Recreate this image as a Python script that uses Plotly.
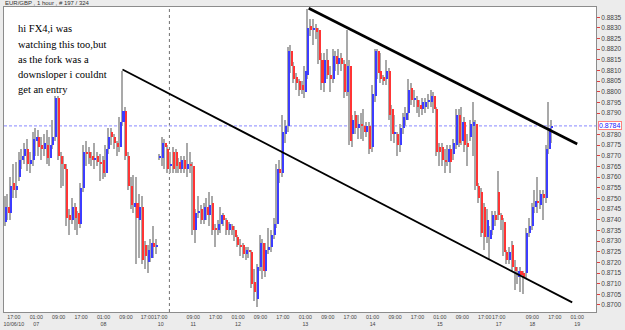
import plotly.graph_objects as go

# ---- data (hourly EUR/GBP bars) ----
bar_index = list(range(196))

opens = [0.8739,0.8746,0.8743,0.8757,0.8754,0.8760,0.8768,0.8770,0.8773,0.8766,
         0.8768,0.8777,0.8779,0.8775,0.8773,0.8775,0.8769,0.8775,0.8779,0.8797,
         0.8770,0.8766,0.8764,0.8742,0.8740,0.8746,0.8743,0.8738,0.8755,0.8772,
         0.8772,0.8770,0.8768,0.8770,0.8767,0.8768,0.8762,0.8773,0.8781,0.8779,
         0.8776,0.8774,0.8786,0.8791,0.8770,0.8756,0.8746,0.8748,0.8740,0.8746,
         0.8728,0.8720,0.8722,0.8729,0.8727,0.8769,0.8769,0.8776,0.8773,0.8765,
         0.8772,0.8772,0.8767,0.8764,0.8768,0.8764,0.8766,0.8765,0.8735,0.8743,
         0.8745,0.8740,0.8746,0.8742,0.8748,0.8736,0.8735,0.8738,0.8742,0.8740,
         0.8735,0.8737,0.8735,0.8732,0.8728,0.8728,0.8724,0.8726,0.8725,0.8711,
         0.8703,0.8718,0.8729,0.8716,0.8726,0.8727,0.8733,0.8738,0.8764,0.8762,
         0.8780,0.8784,0.8819,0.8812,0.8807,0.8805,0.8803,0.8800,0.8808,0.8831,
         0.8829,0.8830,0.8829,0.8815,0.8804,0.8815,0.8808,0.8806,0.8817,0.8813,
         0.8816,0.8813,0.8800,0.8812,0.8780,0.8789,0.8783,0.8785,0.8784,0.8781,
         0.8784,0.8774,0.8798,0.8819,0.8810,0.8807,0.8806,0.8810,0.8792,0.8780,
         0.8780,0.8775,0.8783,0.8787,0.8790,0.8802,0.8796,0.8796,0.8794,0.8792,
         0.8793,0.8795,0.8795,0.8798,0.8792,0.8774,0.8774,0.8768,0.8767,0.8773,
         0.8771,0.8775,0.8789,0.8777,0.8786,0.8776,0.8779,0.8784,0.8785,0.8756,
         0.8753,0.8746,0.8732,0.8731,0.8735,0.8742,0.8753,0.8742,0.8739,0.8725,
         0.8721,0.8728,0.8718,0.8713,0.8716,0.8715,0.8715,0.8734,0.8737,0.8746,
         0.8749,0.8747,0.8752,0.8750,0.8773,0.8783]
highs = [0.8751,0.8752,0.8760,0.8766,0.8767,0.8772,0.8773,0.8776,0.8778,0.8772,
         0.8781,0.8783,0.8782,0.8779,0.8780,0.8782,0.8779,0.8787,0.8798,0.8798,
         0.8772,0.8770,0.8766,0.8745,0.8750,0.8748,0.8744,0.8757,0.8775,0.8777,
         0.8774,0.8772,0.8776,0.8772,0.8771,0.8770,0.8775,0.8783,0.8783,0.8780,
         0.8777,0.8788,0.8810,0.8793,0.8772,0.8760,0.8761,0.8760,0.8752,0.8751,
         0.8730,0.8728,0.8731,0.8737,0.8731,0.8771,0.8779,0.8778,0.8775,0.8772,
         0.8774,0.8773,0.8769,0.8770,0.8770,0.8776,0.8772,0.8767,0.8745,0.8751,
         0.8747,0.8748,0.8750,0.8753,0.8751,0.8738,0.8740,0.8746,0.8743,0.8741,
         0.8739,0.8738,0.8737,0.8733,0.8731,0.8729,0.8727,0.8727,0.8726,0.8717,
         0.8719,0.8733,0.8731,0.8729,0.8736,0.8735,0.8741,0.8766,0.8768,0.8789,
         0.8787,0.8821,0.8822,0.8814,0.8809,0.8806,0.8805,0.8812,0.8839,0.8834,
         0.8834,0.8832,0.8830,0.8818,0.8818,0.8820,0.8812,0.8820,0.8819,0.8820,
         0.8818,0.8815,0.8829,0.8815,0.8789,0.8791,0.8789,0.8790,0.8792,0.8786,
         0.8786,0.8803,0.8820,0.8820,0.8818,0.8808,0.8815,0.8811,0.8794,0.8789,
         0.8781,0.8785,0.8790,0.8793,0.8806,0.8804,0.8801,0.8798,0.8796,0.8797,
         0.8797,0.8799,0.8801,0.8800,0.8793,0.8776,0.8776,0.8773,0.8775,0.8775,
         0.8778,0.8792,0.8792,0.8793,0.8788,0.8780,0.8787,0.8795,0.8787,0.8757,
         0.8755,0.8748,0.8745,0.8737,0.8744,0.8744,0.8763,0.8743,0.8741,0.8726,
         0.8727,0.8730,0.8721,0.8718,0.8718,0.8716,0.8736,0.8741,0.8748,0.8754,
         0.8760,0.8754,0.8754,0.8775,0.8795,0.8787]
lows = [0.8737,0.8740,0.8740,0.8750,0.8750,0.8758,0.8764,0.8766,0.8763,0.8762,
        0.8765,0.8770,0.8770,0.8768,0.8770,0.8766,0.8765,0.8773,0.8777,0.8768,
        0.8755,0.8756,0.8737,0.8733,0.8738,0.8735,0.8733,0.8736,0.8753,0.8765,
        0.8766,0.8765,0.8764,0.8765,0.8758,0.8759,0.8760,0.8771,0.8775,0.8773,
        0.8770,0.8772,0.8784,0.8768,0.8754,0.8745,0.8743,0.8719,0.8722,0.8719,
        0.8717,0.8715,0.8720,0.8722,0.8724,0.8768,0.8765,0.8764,0.8762,0.8762,
        0.8762,0.8762,0.8762,0.8762,0.8762,0.8760,0.8762,0.8733,0.8729,0.8741,
        0.8738,0.8738,0.8740,0.8737,0.8733,0.8727,0.8733,0.8734,0.8737,0.8733,
        0.8733,0.8733,0.8730,0.8727,0.8723,0.8722,0.8721,0.8722,0.8708,0.8702,
        0.8699,0.8716,0.8712,0.8713,0.8724,0.8725,0.8731,0.8736,0.8757,0.8760,
        0.8776,0.8781,0.8809,0.8804,0.8801,0.8798,0.8799,0.8797,0.8806,0.8826,
        0.8822,0.8825,0.8813,0.8801,0.8800,0.8806,0.8800,0.8804,0.8810,0.8808,
        0.8810,0.8797,0.8798,0.8775,0.8774,0.8780,0.8778,0.8778,0.8777,0.8779,
        0.8771,0.8772,0.8795,0.8806,0.8804,0.8803,0.8803,0.8787,0.8777,0.8776,
        0.8770,0.8772,0.8780,0.8784,0.8787,0.8794,0.8793,0.8790,0.8788,0.8789,
        0.8790,0.8792,0.8793,0.8790,0.8770,0.8765,0.8765,0.8762,0.8765,0.8762,
        0.8768,0.8773,0.8774,0.8775,0.8772,0.8765,0.8777,0.8770,0.8754,0.8748,
        0.8732,0.8726,0.8729,0.8721,0.8733,0.8737,0.8740,0.8735,0.8723,0.8719,
        0.8719,0.8716,0.8707,0.8710,0.8706,0.8705,0.8712,0.8732,0.8735,0.8743,
        0.8743,0.8745,0.8740,0.8748,0.8771,0.8776]
closes = [0.8746,0.8743,0.8756,0.8754,0.8756,0.8768,0.8770,0.8773,0.8766,0.8768,
          0.8778,0.8779,0.8774,0.8773,0.8776,0.8769,0.8775,0.8779,0.8797,0.8770,
          0.8766,0.8764,0.8741,0.8740,0.8746,0.8741,0.8738,0.8755,0.8772,0.8771,
          0.8769,0.8768,0.8769,0.8767,0.8766,0.8762,0.8773,0.8779,0.8779,0.8776,
          0.8774,0.8786,0.8791,0.8770,0.8756,0.8747,0.8748,0.8741,0.8746,0.8721,
          0.8723,0.8726,0.8729,0.8727,0.8728,0.8770,0.8776,0.8774,0.8764,0.8766,
          0.8764,0.8765,0.8764,0.8768,0.8764,0.8766,0.8765,0.8735,0.8743,0.8744,
          0.8740,0.8746,0.8742,0.8747,0.8735,0.8735,0.8738,0.8742,0.8740,0.8735,
          0.8738,0.8735,0.8732,0.8728,0.8727,0.8724,0.8726,0.8725,0.8710,0.8706,
          0.8718,0.8729,0.8716,0.8726,0.8727,0.8733,0.8738,0.8764,0.8762,0.8781,
          0.8784,0.8819,0.8812,0.8806,0.8804,0.8801,0.8801,0.8810,0.8830,0.8829,
          0.8830,0.8828,0.8815,0.8804,0.8815,0.8808,0.8806,0.8817,0.8813,0.8816,
          0.8813,0.8800,0.8812,0.8777,0.8787,0.8783,0.8785,0.8784,0.8781,0.8784,
          0.8773,0.8799,0.8819,0.8809,0.8806,0.8805,0.8810,0.8789,0.8780,0.8781,
          0.8775,0.8783,0.8788,0.8790,0.8801,0.8796,0.8797,0.8793,0.8792,0.8795,
          0.8795,0.8796,0.8798,0.8792,0.8772,0.8772,0.8768,0.8767,0.8773,0.8767,
          0.8776,0.8789,0.8776,0.8786,0.8775,0.8774,0.8785,0.8786,0.8756,0.8750,
          0.8734,0.8732,0.8740,0.8735,0.8742,0.8740,0.8742,0.8740,0.8725,0.8721,
          0.8725,0.8718,0.8716,0.8716,0.8714,0.8713,0.8734,0.8737,0.8746,0.8749,
          0.8748,0.8752,0.8750,0.8773,0.8783,0.8784]

tick_index = [3, 11, 19, 27, 35, 43, 50.6, 55.4, 67, 75, 83, 91, 99, 107, 115, 123,
              131, 139, 147, 155, 163, 171, 176, 188, 196, 204]
tick_labels = ["17:00<br>10/06/10", "01:00<br>07", "09:00", "17:00", "01:00<br>08",
               "09:00", "17:00", "17:00<br>10", "09:00<br>11", "17:00", "01:00<br>12",
               "09:00", "17:00", "01:00<br>13", "09:00", "17:00", "01:00<br>14",
               "09:00", "17:00", "01:00<br>15", "09:00", "17:00", "17:00<br>17",
               "09:00<br>18", "17:00", "01:00<br>19"]

# price scale labels (0.8785 is hidden under the last-price box in the reference)
price_ticks = [0.8700, 0.8705, 0.8710, 0.8715, 0.8720, 0.8725, 0.8730, 0.8735,
               0.8740, 0.8745, 0.8750, 0.8755, 0.8760, 0.8765, 0.8770, 0.8775,
               0.8780, 0.8790, 0.8795, 0.8800, 0.8805, 0.8810, 0.8815,
               0.8820, 0.8825, 0.8830, 0.8835]

last_price = 0.8784
separator_index = 58.5
fork_lower_x = [41.76, 202.2]
fork_lower_y = [0.88105, 0.87012]
fork_upper_x = [108.2, 204.0]
fork_upper_y = [0.88392, 0.87755]

title_text = "EUR/GBP , 1 hour , # 197 / 324"
note_lines = ["hi FX4,i was", "watching this too,but", "as the fork was a",
              "downsloper i couldnt", "get an entry"]

# ---- figure ----
UP = "#3c3cff"
DOWN = "#ff3535"
WICK = "#a9a9a9"
NARROW = "Liberation Sans Narrow, Arial Narrow, Liberation Sans, sans-serif"

wick_x = [i - 0.3 for i in bar_index]
wick_len = [h - l for h, l in zip(highs, lows)]
body_x = [i + 0.12 for i in bar_index]
body_base = [min(o, c) for o, c in zip(opens, closes)]
body_len = [max(abs(c - o), 0.00004) for o, c in zip(opens, closes)]
body_col = [UP if c >= o else DOWN for o, c in zip(opens, closes)]

fig = go.Figure()
fig.add_trace(go.Bar(x=wick_x, y=wick_len, base=lows, width=0.38,
                     marker=dict(color=WICK, line=dict(width=0)), hoverinfo="skip"))
fig.add_trace(go.Bar(x=body_x, y=body_len, base=body_base, width=0.72,
                     marker=dict(color=body_col, line=dict(width=0)), hoverinfo="skip"))
fig.add_trace(go.Scatter(x=fork_lower_x, y=fork_lower_y, mode="lines",
                         line=dict(color="black", width=1.8), hoverinfo="skip"))
fig.add_trace(go.Scatter(x=fork_upper_x, y=fork_upper_y, mode="lines",
                         line=dict(color="black", width=2.7), hoverinfo="skip"))

fig.add_shape(type="line", xref="x", yref="paper", x0=separator_index, x1=separator_index,
              y0=0, y1=1, line=dict(color="#707070", width=1, dash="3px,3px"), layer="below")
fig.add_shape(type="line", xref="paper", yref="y", x0=0, x1=1, y0=last_price, y1=last_price,
              line=dict(color="#a0a0ff", width=1.3, dash="3px,2px"), layer="below")

fig.add_annotation(xref="paper", yref="y", x=1, y=last_price, xanchor="left", xshift=2,
                   text=f"{last_price:.4f}", showarrow=False,
                   font=dict(family=NARROW, size=7, color="#2020ff"),
                   bgcolor="white", bordercolor="#ff8080", borderwidth=1, borderpad=0)

fig.add_annotation(xref="paper", yref="paper", x=-0.002, y=1.013, xanchor="left", yanchor="middle",
                   text=title_text, showarrow=False,
                   font=dict(family=NARROW, size=6, color="#333"))

for k, line in enumerate(note_lines):
    fig.add_annotation(xref="paper", yref="paper", x=0.02, y=(312 - (29 + 15.2 * k)) / 305,
                       xanchor="left", yanchor="middle", text=line, showarrow=False,
                       font=dict(family="Liberation Serif, Times New Roman, serif", size=10.5, color="black"))

fig.update_layout(
    width=625, height=330,
    margin=dict(l=3, r=21, t=7, b=18),
    paper_bgcolor="#ececec", plot_bgcolor="white",
    showlegend=False, barmode="overlay", bargap=0,
    xaxis=dict(range=[-0.51, 210.7], tickmode="array", tickvals=tick_index, ticktext=tick_labels,
               tickangle=0, tickfont=dict(family=NARROW, size=5.3, color="#444"),
               ticks="", showgrid=False, zeroline=False,
               showline=True, mirror=True, linecolor="#8c8c8c", linewidth=1, fixedrange=True),
    yaxis=dict(range=[0.86967, 0.88398], side="right", tickmode="array", tickvals=price_ticks,
               tickformat=".4f", ticks="outside", ticklen=3, tickcolor="#e04040",
               tickfont=dict(family=NARROW, size=6.5, color="#444"), showgrid=False, zeroline=False,
               showline=True, mirror=True, linecolor="#8c8c8c", linewidth=1, fixedrange=True),
)

fig.write_html("out.html")
